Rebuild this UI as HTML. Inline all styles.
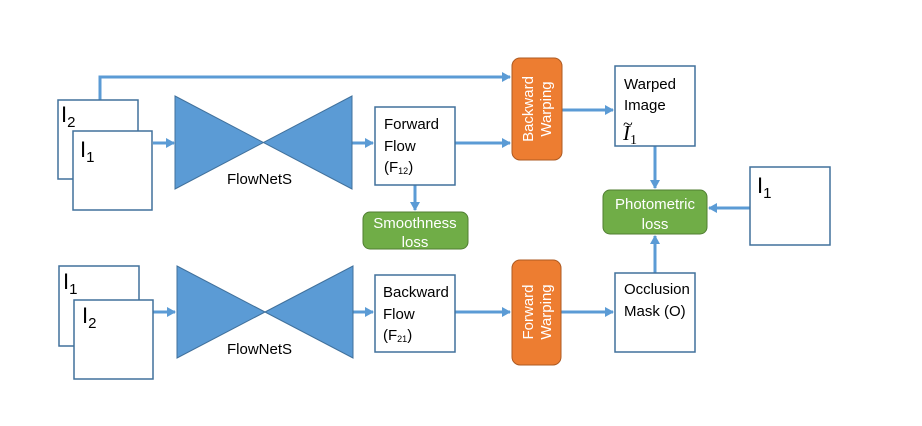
<!DOCTYPE html>
<html><head><meta charset="utf-8"><style>
html,body{margin:0;padding:0;background:#fff;}
svg{display:block;font-family:"Liberation Sans",sans-serif;}
</style></head><body>
<svg width="922" height="426" viewBox="0 0 922 426" xmlns="http://www.w3.org/2000/svg">
<defs>
<marker id="a" markerWidth="10" markerHeight="10" refX="8" refY="5" orient="auto" markerUnits="userSpaceOnUse">
<path d="M0,0 L9,5 L0,10 Z" fill="#5b9bd5"/></marker>
</defs>
<g fill="none" stroke="#5b9bd5" stroke-width="3">
<path d="M100,100 V77 H510" marker-end="url(#a)"/>
<path d="M153,143 H174" marker-end="url(#a)"/>
<path d="M352,143 H373" marker-end="url(#a)"/>
<path d="M455,143 H510" marker-end="url(#a)"/>
<path d="M415,185 V210" marker-end="url(#a)"/>
<path d="M562,110 H613" marker-end="url(#a)"/>
<path d="M655,146 V188" marker-end="url(#a)"/>
<path d="M750,208 H709" marker-end="url(#a)"/>
<path d="M655,273 V236" marker-end="url(#a)"/>
<path d="M153,312 H175" marker-end="url(#a)"/>
<path d="M353,312 H373" marker-end="url(#a)"/>
<path d="M455,312 H510" marker-end="url(#a)"/>
<path d="M561,312 H613" marker-end="url(#a)"/>
</g>
<g fill="#fff" stroke="#41719c" stroke-width="1.5">
<rect x="58" y="100" width="80" height="79"/>
<rect x="73" y="131" width="79" height="79"/>
<rect x="375" y="107" width="80" height="78"/>
<rect x="615" y="66" width="80" height="80"/>
<rect x="750" y="167" width="80" height="78"/>
<rect x="59" y="266" width="80" height="80"/>
<rect x="74" y="300" width="79" height="79"/>
<rect x="375" y="275" width="80" height="77"/>
<rect x="615" y="273" width="80" height="79"/>
</g>
<g fill="#5b9bd5" stroke="#41719c" stroke-width="1">
<path d="M175,96 L352,189 L352,96 L175,189 Z"/>
<path d="M177,266 L353,358 L353,266 L177,358 Z"/>
</g>
<g fill="#ed7d31" stroke="#ae5a21" stroke-width="1">
<rect x="512" y="58" width="50" height="102" rx="8"/>
<rect x="512" y="260" width="49" height="105" rx="8"/>
</g>
<g fill="#70ad47" stroke="#507e32" stroke-width="1">
<rect x="363" y="212" width="105" height="37" rx="7"/>
<rect x="603" y="190" width="104" height="44" rx="7"/>
</g>
<g fill="#000" font-size="22">
<text x="61" y="122">I<tspan font-size="15" dy="5">2</tspan></text>
<text x="80" y="157">I<tspan font-size="15" dy="5">1</tspan></text>
<text x="63" y="289">I<tspan font-size="15" dy="5">1</tspan></text>
<text x="82" y="323">I<tspan font-size="15" dy="5">2</tspan></text>
<text x="757" y="193">I<tspan font-size="15" dy="5">1</tspan></text>
</g>
<g fill="#000" font-size="15">
<text x="227" y="184">FlowNetS</text>
<text x="227" y="354">FlowNetS</text>
<text x="384" y="129">Forward</text>
<text x="384" y="151">Flow</text>
<text x="384" y="172">(F<tspan font-size="9" dy="2">12</tspan><tspan dy="-2">)</tspan></text>
<text x="383" y="297">Backward</text>
<text x="383" y="319">Flow</text>
<text x="383" y="340">(F<tspan font-size="9" dy="2">21</tspan><tspan dy="-2">)</tspan></text>
<text x="624" y="89">Warped</text>
<text x="624" y="110">Image</text>
<text x="624" y="294">Occlusion</text>
<text x="624" y="316">Mask (O)</text>
</g>
<text x="623" y="140" font-family="Liberation Serif,serif" font-style="italic" font-size="21">I<tspan font-style="normal" font-size="14" dy="4">1</tspan></text>
<text x="623" y="130" font-family="Liberation Serif,serif" font-size="18">~</text>
<g fill="#fff" font-size="15" text-anchor="middle">
<text x="415" y="228">Smoothness</text>
<text x="415" y="247">loss</text>
<text x="655" y="209">Photometric</text>
<text x="655" y="229">loss</text>
<text transform="translate(533,109) rotate(-90)">Backward</text>
<text transform="translate(551,109) rotate(-90)">Warping</text>
<text transform="translate(533,312) rotate(-90)">Forward</text>
<text transform="translate(551,312) rotate(-90)">Warping</text>
</g>
</svg>
</body></html>
